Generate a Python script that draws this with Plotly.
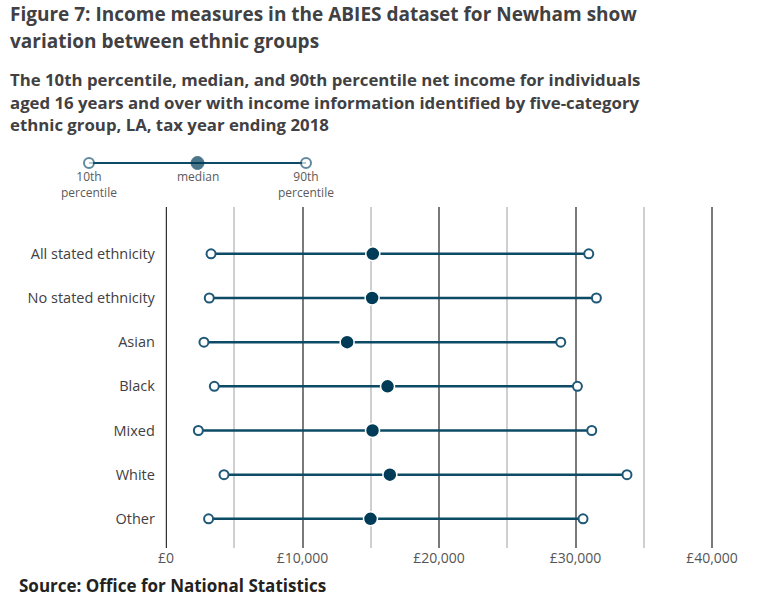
import plotly.graph_objects as go

# Net income by ethnic group, Newham, tax year ending 2018 (GBP)
groups = ["All stated ethnicity", "No stated ethnicity", "Asian", "Black",
          "Mixed", "White", "Other"]
p10 = [3300, 3170, 2780, 3540, 2370, 4250, 3120]
median = [15150, 15100, 13270, 16230, 15130, 16400, 14980]
p90 = [30970, 31530, 28920, 30140, 31190, 33770, 30550]

tick_vals = [0, 10000, 20000, 30000, 40000]
tick_text = ["£0", "£10,000", "£20,000", "£30,000", "£40,000"]

key_labels = ["10th<br>percentile", "median", "90th<br>percentile"]

LINE = "#0d4a66"
DARK = "#003c57"
OPEN = "#1f5878"
FONT = "Open Sans"
W, H = 761, 600

fig = go.Figure()

# range bars from 10th to 90th percentile
xs, ys = [], []
for g, lo, hi in zip(groups, p10, p90):
    xs += [lo, hi, None]
    ys += [g, g, None]
fig.add_trace(go.Scatter(x=xs, y=ys, mode="lines",
                         line=dict(color=LINE, width=2.5), hoverinfo="skip"))

open_marker = dict(symbol="circle", size=9, color="white",
                   line=dict(color=OPEN, width=2))
fig.add_trace(go.Scatter(x=p10, y=groups, mode="markers", marker=open_marker))
fig.add_trace(go.Scatter(x=p90, y=groups, mode="markers", marker=open_marker))
fig.add_trace(go.Scatter(x=median, y=groups, mode="markers",
                         marker=dict(symbol="circle", size=14, color=DARK,
                                     line=dict(color="white", width=1.5))))

# key above the chart
fig.add_trace(go.Scatter(x=[0, 2], y=[0, 0], mode="lines",
                         line=dict(color=LINE, width=2), xaxis="x2", yaxis="y2",
                         hoverinfo="skip"))
fig.add_trace(go.Scatter(x=[0, 1, 2], y=[0, 0, 0], mode="markers",
                         marker=dict(size=[10, 13, 10],
                                     color=["white", DARK, "white"],
                                     line=dict(color=[OPEN, DARK, OPEN],
                                               width=[2, 1, 2])),
                         cliponaxis=False, xaxis="x2", yaxis="y2"))


def px_x(p):
    return p / W


def px_y(p):
    return 1 - p / H


for i, label in enumerate(key_labels):
    fig.add_annotation(text=label, x=i, y=px_y(166),
                       xref="x2", yref="paper", xanchor="center",
                       yanchor="top", showarrow=False,
                       font=dict(family=FONT, size=12, color="#5a5a5a"))

fig.update_layout(
    width=W, height=H,
    margin=dict(l=0, r=0, t=0, b=0, autoexpand=False),
    paper_bgcolor="white", plot_bgcolor="white",
    showlegend=False, hovermode=False,
    font=dict(family=FONT, color="#414042"),
    xaxis=dict(
        domain=[px_x(161.9), px_x(716.1)], range=[-300, 40300],
        tickvals=tick_vals, ticktext=tick_text,
        tickfont=dict(size=14, color="#555555"),
        showgrid=True, gridcolor="#7a7a7a", gridwidth=1.5,
        minor=dict(dtick=5000, tick0=0, showgrid=True,
                   gridcolor="#cfcfcf", gridwidth=1.5),
        zeroline=True, zerolinecolor="#333333", zerolinewidth=1.2,
        showline=False, ticks="", fixedrange=True,
    ),
    yaxis=dict(
        domain=[px_y(548), px_y(207)],
        categoryorder="array", categoryarray=groups,
        range=[6.66, -1.06],
        tickfont=dict(size=14.5, color="#414042"),
        showgrid=False, zeroline=False, showline=False, ticks="",
        ticklabelstandoff=6, fixedrange=True,
    ),
    xaxis2=dict(domain=[px_x(34.75), px_x(360.25)], range=[-0.5, 2.5],
                visible=False, anchor="y2", fixedrange=True),
    yaxis2=dict(domain=[px_y(173), px_y(153)], range=[-1, 1],
                visible=False, anchor="x2", fixedrange=True),
)

ann = [
    dict(text="Figure 7: Income measures in the ABIES dataset for Newham show",
         y=px_y(14), size=19),
    dict(text="variation between ethnic groups", y=px_y(41), size=19),
    dict(text="The 10th percentile, median, and 90th percentile net income for individuals",
         y=px_y(80), size=16.8),
    dict(text="aged 16 years and over with income information identified by five-category",
         y=px_y(102), size=16.8),
    dict(text="ethnic group, LA, tax year ending 2018", y=px_y(124), size=16.8),
]
for a in ann:
    fig.add_annotation(text="<b>" + a["text"] + "</b>", x=px_x(8), y=a["y"],
                       xref="paper", yref="paper", xanchor="left",
                       yanchor="middle", showarrow=False,
                       font=dict(family=FONT, size=a["size"], color="#414042"))
fig.add_annotation(text="<b>Source: Office for National Statistics</b>",
                   x=px_x(17), y=px_y(585), xref="paper", yref="paper",
                   xanchor="left", yanchor="middle", showarrow=False,
                   font=dict(family=FONT, size=17, color="#222222"))

fig.write_html("out.html")
